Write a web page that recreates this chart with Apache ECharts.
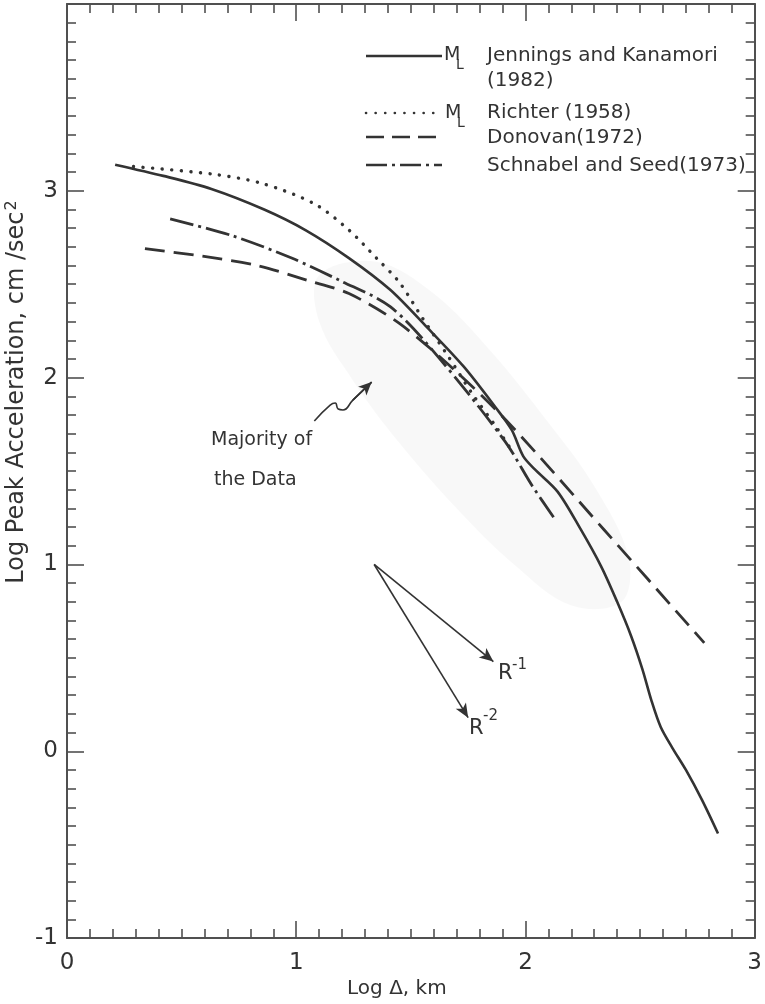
<!DOCTYPE html>
<html>
<head>
<meta charset="utf-8">
<script src="https://cdn.jsdelivr.net/npm/echarts@6/dist/echarts.min.js"></script>
<style>
  html, body { margin: 0; padding: 0; background: #fff; }
  #main { width: 765px; height: 1004px; }
</style>
</head>
<body>
<div id="main"></div>
<script>
// Attenuation curves: [log distance (km), log peak acceleration (cm/sec^2)]
const jenningsKanamori = [
  [0.21, 3.14], [0.42, 3.08], [0.63, 3.01], [0.86, 2.90], [1.04, 2.79],
  [1.23, 2.64], [1.41, 2.47], [1.57, 2.27], [1.73, 2.06], [1.87, 1.84],
  [1.94, 1.72], [1.99, 1.58], [2.04, 1.51], [2.14, 1.39], [2.24, 1.19],
  [2.33, 0.99], [2.40, 0.80], [2.46, 0.62], [2.51, 0.44], [2.55, 0.27],
  [2.59, 0.13], [2.64, 0.02], [2.70, -0.10], [2.77, -0.26], [2.84, -0.44]
];
const richter = [
  [0.29, 3.13], [0.63, 3.09], [0.85, 3.04], [1.08, 2.93], [1.23, 2.79],
  [1.35, 2.64], [1.45, 2.51], [1.55, 2.32], [1.66, 2.12], [1.77, 1.91],
  [1.87, 1.74], [1.94, 1.61]
];
const donovan = [
  [0.34, 2.69], [0.59, 2.65], [0.83, 2.60], [1.05, 2.52], [1.23, 2.45],
  [1.45, 2.29], [1.70, 2.03], [1.94, 1.74], [2.34, 1.19], [2.78, 0.58]
];
const schnabelSeed = [
  [0.45, 2.85], [0.72, 2.76], [0.98, 2.64], [1.19, 2.52], [1.41, 2.38],
  [1.62, 2.11], [1.91, 1.66], [2.03, 1.42], [2.13, 1.24]
];

// Outline of the region holding most of the recorded data
const dataRegion = [
  [1.10, 2.55], [1.35, 2.62], [1.60, 2.45], [1.85, 2.14], [2.10, 1.76],
  [2.30, 1.42], [2.45, 1.04], [2.42, 0.80], [2.20, 0.78], [1.95, 1.00],
  [1.70, 1.30], [1.45, 1.65], [1.25, 1.98], [1.10, 2.30]
];

// Reference slopes (R^-1 and R^-2) drawn from a common origin
const slopeOrigin = [1.34, 1.00];
const slopeR1End = [1.86, 0.48];
const slopeR2End = [1.75, 0.18];

// Squiggly pointer toward the data region
const pointerPath = [
  [1.079, 1.768], [1.148, 1.853], [1.170, 1.864], [1.183, 1.832],
  [1.204, 1.827], [1.247, 1.880], [1.329, 1.976]
];

const xTicks = [0, 1, 2, 3];
const yTicks = [-1, 0, 1, 2, 3];

const INK = '#333';
const FRAME = '#505050';
const FONT = 'DejaVu Sans';

function axisCommon(min, max, showLabels, labelMargin) {
  return {
    type: 'value', min: min, max: max, interval: 1,
    axisLine: { show: true, onZero: false, lineStyle: { color: FRAME, width: 2 } },
    axisTick: { show: true, inside: true, length: 17, lineStyle: { color: FRAME, width: 1.6 } },
    minorTick: { show: true, splitNumber: 10, length: 9, lineStyle: { color: FRAME, width: 1.6 } },
    splitLine: { show: false },
    minorSplitLine: { show: false },
    axisLabel: {
      show: showLabels, margin: labelMargin, color: INK, fontFamily: FONT, fontSize: 23
    }
  };
}

const xBottom = Object.assign(axisCommon(0, 3, true, 13), {
  position: 'bottom',
  name: 'Log Δ, km', nameLocation: 'middle', nameGap: 38,
  nameTextStyle: { color: INK, fontFamily: FONT, fontSize: 20, padding: [0, 28, 0, 0] }
});
xBottom.axisLabel.formatter = v => (xTicks.indexOf(v) >= 0 ? String(v) : '');
const xTop = Object.assign(axisCommon(0, 3, false, 8), { position: 'top' });

const yLeft = Object.assign(axisCommon(-1, 4, true, 9), { position: 'left' });
yLeft.axisLabel.formatter = v => (yTicks.indexOf(v) >= 0 ? String(v) : '');
const yRight = Object.assign(axisCommon(-1, 4, false, 8), { position: 'right' });

function curve(name, data, lineStyle) {
  return {
    name: name, type: 'line', data: data, showSymbol: false, smooth: 0.3,
    lineStyle: Object.assign({ color: INK, width: 2.6 }, lineStyle),
    silent: true, z: 3
  };
}

// Legend samples and labels
const legendX1 = 366, legendX2 = 442;
const legendTextX = 487;
function legendLine(y, dash, cap) {
  return {
    type: 'line', shape: { x1: legendX1, y1: y, x2: legendX2, y2: y },
    style: { stroke: INK, lineWidth: 2.6, lineDash: dash, lineCap: cap || 'butt' }
  };
}
function label(x, y, text, size, align) {
  return {
    type: 'text', x: x, y: y,
    style: {
      text: text, fill: INK, font: size + 'px "' + FONT + '"',
      textAlign: align || 'left', textVerticalAlign: 'middle'
    }
  };
}

const graphics = [
  legendLine(56, null),
  label(444, 55, 'M', 19), label(456, 65, 'L', 14),
  label(legendTextX, 56, 'Jennings and Kanamori', 20),
  label(legendTextX, 81, '(1982)', 20),

  legendLine(113, [0.1, 9.5], 'round'),
  label(445, 113, 'M', 19), label(457, 123, 'L', 14),
  label(legendTextX, 113, 'Richter (1958)', 20),

  legendLine(137, [18, 8]),
  label(legendTextX, 138, 'Donovan(1972)', 20),

  legendLine(165, [21, 5, 3, 5]),
  label(legendTextX, 166, 'Schnabel and Seed(1973)', 20),

  // Annotations
  label(211, 440, 'Majority of', 19),
  label(214, 480, 'the Data', 19),
  label(498, 674, 'R', 21), label(512, 665, '-1', 15),
  label(469, 729, 'R', 21), label(483, 716, '-2', 15),

  // Y axis title
  {
    type: 'text', x: 17, y: 392, rotation: Math.PI / 2,
    style: {
      text: 'Log Peak Acceleration, cm /sec{s|2}',
      fill: INK, font: '24px "' + FONT + '"',
      textAlign: 'center', textVerticalAlign: 'middle',
      rich: { s: { fontSize: 16, fontFamily: FONT, fill: INK, verticalAlign: 'top', padding: [0, 0, 10, 1] } }
    }
  }
];

const option = {
  animation: false,
  backgroundColor: '#fff',
  grid: { left: 67, right: 3, top: 4, bottom: 62, containLabel: false },
  xAxis: [xBottom, xTop],
  yAxis: [yLeft, yRight],
  series: [
    {
      type: 'custom', silent: true, z: 1,
      data: [dataRegion[0]],
      renderItem: function (params, api) {
        const pts = dataRegion.map(p => api.coord(p));
        return {
          type: 'polygon', shape: { points: pts, smooth: 0.35 },
          style: { fill: 'rgba(0,0,0,0.028)' }
        };
      }
    },
    curve('ML Jennings and Kanamori (1982)', jenningsKanamori, { type: 'solid' }),
    curve('ML Richter (1958)', richter, { type: [0.1, 9.5], cap: 'round', width: 3.4 }),
    curve('Donovan (1972)', donovan, { type: [20, 9], width: 2.8 }),
    curve('Schnabel and Seed (1973)', schnabelSeed, { type: [24, 5, 3, 5], width: 2.8 }),
    {
      name: 'pointer', type: 'line', data: pointerPath, showSymbol: false, smooth: 0.5,
      lineStyle: { color: INK, width: 1.6 }, silent: true, z: 4,
      markLine: {
        silent: true, symbol: ['none', 'arrow'], symbolSize: [9, 13],
        label: { show: false },
        lineStyle: { color: INK, width: 1.6, type: 'solid' },
        data: [[{ coord: pointerPath[pointerPath.length - 2] }, { coord: pointerPath[pointerPath.length - 1] }]]
      }
    },
    {
      name: 'slopes', type: 'line', data: [], silent: true, z: 4,
      markLine: {
        silent: true, symbol: ['none', 'arrow'], symbolSize: [9, 14],
        label: { show: false },
        lineStyle: { color: INK, width: 1.6, type: 'solid' },
        data: [
          [{ coord: slopeOrigin }, { coord: slopeR1End }],
          [{ coord: slopeOrigin }, { coord: slopeR2End }]
        ]
      }
    }
  ],
  graphic: graphics
};

const chart = echarts.init(document.getElementById('main'));
chart.setOption(option);
</script>
</body>
</html>
